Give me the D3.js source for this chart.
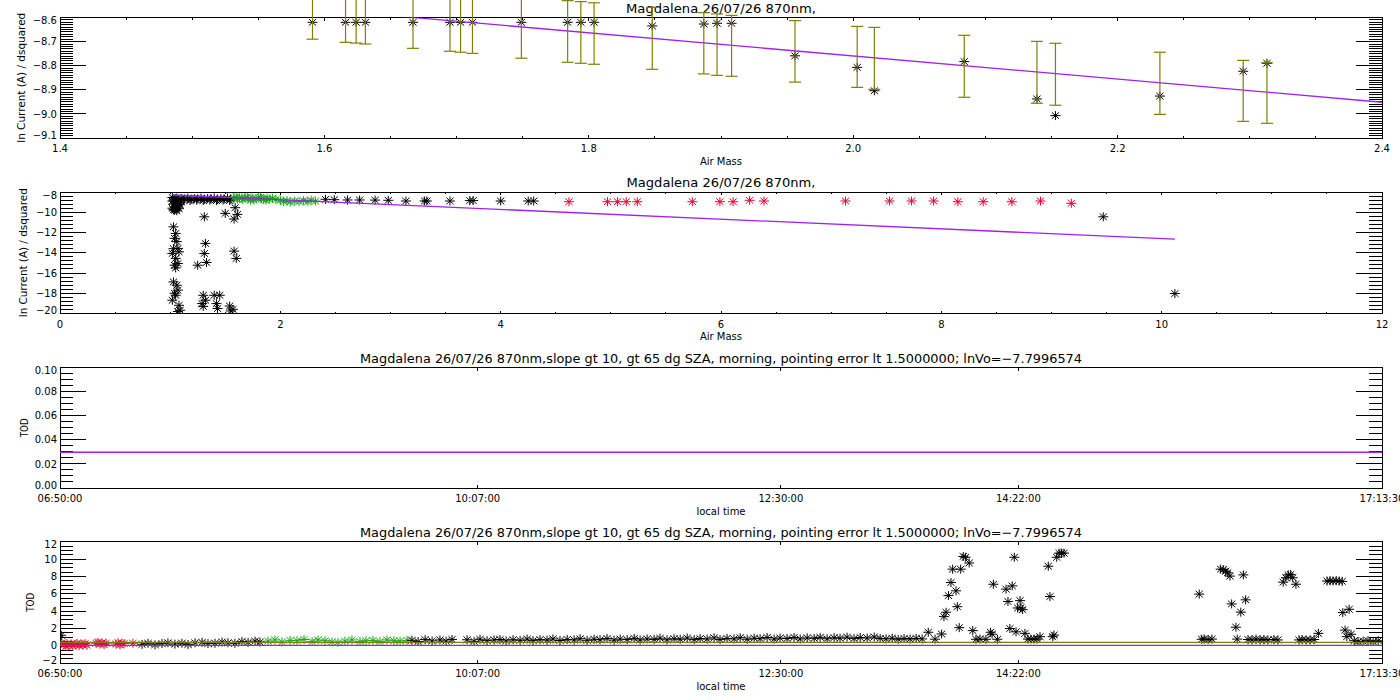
<!DOCTYPE html>
<html>
<head>
<meta charset="utf-8">
<script src="https://cdn.jsdelivr.net/npm/d3@7"></script>
<style>
  body { margin: 0; background: white; }
  svg text { font-family: "DejaVu Sans", sans-serif; fill: black; }
</style>
</head>
<body>
<div id="chart"></div>
<script>
// ---- titles ----
const titleShort = 'Magdalena 26/07/26 870nm,';
const titleLong = 'Magdalena 26/07/26 870nm,slope gt 10, gt 65 dg SZA, morning, pointing error lt 1.5000000; lnVo=\u22127.7996574';

// ---- panel 1: zoom on the Langley points with error bars ----
const p1AirMass = [1.591, 1.616, 1.624, 1.631, 1.667, 1.695, 1.703, 1.712, 1.749, 1.784, 1.794, 1.804, 1.848,
                   1.887, 1.897, 1.908, 1.956, 2.003, 2.016, 2.084, 2.139, 2.153, 2.232, 2.295, 2.313];
const p1LnI = [-8.620, -8.620, -8.620, -8.620, -8.620, -8.620, -8.620, -8.620, -8.620, -8.620, -8.620, -8.620, -8.635,
               -8.627, -8.624, -8.624, -8.759, -8.807, -8.904, -8.783, -8.938, -9.007, -8.926, -8.823, -8.790];
const p1ErrLow = [-8.690, -8.703, -8.706, -8.710, -8.728, -8.740, -8.744, -8.749, -8.769, -8.786, -8.790, -8.794, -8.815,
                  -8.834, -8.840, -8.844, -8.868, -8.890, -8.898, -8.931, -8.956, -8.964, -9.002, -9.031, -9.039];
const p1ErrHigh = [-8.436, -8.447, -8.452, -8.456, -8.472, -8.486, -8.490, -8.493, -8.509, -8.530, -8.534, -8.539, -8.558,
                   -8.580, -8.585, -8.591, -8.613, -8.637, -8.641, -8.674, -8.699, -8.707, -8.744, -8.778, -8.788];
const p1XTicks = [1.4, 1.6, 1.8, 2.0, 2.2, 2.4];
const p1YTicks = [-8.6, -8.7, -8.8, -8.9, -9.0, -9.1];

// fitted Langley line (shared by panels 1 and 2)
const fitAirMass = [1.03, 10.12];
const fitLnI = [-8.294, -12.657];

// ---- panel 2: all points ----
const p2BlackAirMass = [
    1.02, 1.04, 1.06, 1.08, 1.10, 1.13, 1.16, 1.19, 1.22, 1.25, 1.28, 1.31, 1.34, 1.37, 1.40, 1.43, 1.46, 1.49, 1.52, 1.55,
    1.03, 1.07, 1.12, 1.18, 1.24, 1.30, 1.36, 1.42, 1.48, 1.54,
    1.02, 1.05, 1.08, 1.03, 1.06, 1.09, 1.04, 1.07, 1.02, 1.05, 1.08, 1.04, 1.06, 1.03,
    1.03, 1.05, 1.04, 1.07, 1.02, 1.08, 1.05, 1.04, 1.07, 1.03, 1.06, 1.07, 1.05, 1.02, 1.08, 1.09, 1.06, 1.03, 1.05, 1.04, 1.07,
    1.31, 1.50, 1.59, 1.61, 1.58, 1.32, 1.31, 1.33, 1.25, 1.58, 1.60,
    1.30, 1.29, 1.32, 1.40, 1.45, 1.42, 1.43, 1.54, 1.57, 1.55, 1.30,
    2.41, 2.49, 2.61, 2.72, 2.86, 2.98, 3.14, 3.31, 3.33, 3.54, 3.72, 3.75, 4.00, 4.25, 4.30, 9.47, 10.12];
const p2BlackLnI = [
    -8.55, -8.70, -8.60, -8.75, -8.65, -8.70, -8.60, -8.75, -8.65, -8.70, -8.60, -8.75, -8.65, -8.70, -8.60, -8.75, -8.65, -8.70, -8.60, -8.72,
    -8.80, -8.85, -8.80, -8.85, -8.80, -8.85, -8.80, -8.85, -8.80, -8.85,
    -8.90, -9.00, -9.10, -9.20, -9.30, -9.25, -9.45, -9.50, -9.60, -9.70, -9.65, -9.80, -9.85, -9.75,
    -11.44, -12.09, -12.58, -13.57, -14.07, -13.91, -14.56, -15.23, -15.06, -16.88, -17.21, -17.70, -18.20, -18.69, -19.19, -19.68, -12.90, -13.60, -15.50, -18.00, -19.80,
    -10.45, -10.11, -9.55, -10.21, -10.67, -13.08, -14.07, -14.96, -15.23, -13.84, -14.56,
    -18.20, -19.02, -18.69, -18.20, -18.20, -19.02, -19.51, -19.26, -19.59, -19.75, -19.30,
    -8.72, -8.76, -8.79, -8.79, -8.80, -8.82, -8.89, -8.89, -8.89, -8.89, -8.85, -8.85, -8.89, -8.89, -8.89, -10.45, -18.03];
const p2GreenAirMass = [1.58, 1.60, 1.61, 1.63, 1.65, 1.66, 1.68, 1.70, 1.71, 1.73, 1.75, 1.76, 1.78, 1.80, 1.82, 1.83, 1.85,
                        1.87, 1.88, 1.90, 1.93, 1.96, 2.00, 2.03, 2.06, 2.09, 2.13, 2.17, 2.21, 2.25, 2.28, 2.32];
const p2GreenLnI = [-8.55, -8.50, -8.70, -8.60, -8.62, -8.75, -8.55, -8.52, -8.65, -8.80, -8.60, -8.78, -8.70, -8.55, -8.52, -8.65, -8.75,
                    -8.80, -8.60, -8.70, -8.62, -8.75, -8.80, -8.95, -8.85, -9.00, -8.90, -8.95, -8.85, -8.95, -8.80, -8.90];
const p2RedAirMass = [4.62, 4.97, 5.06, 5.14, 5.24, 5.74, 5.99, 6.11, 6.26, 6.39, 7.13, 7.53, 7.73, 7.93, 8.15, 8.38, 8.64, 8.90, 9.18];
const p2RedLnI = [-8.96, -8.96, -8.96, -8.96, -8.96, -8.96, -8.96, -8.96, -8.82, -8.89, -8.89, -8.89, -8.89, -8.89, -8.96, -8.96, -8.96, -8.89, -9.12];
const p2XTicks = [0, 2, 4, 6, 8, 10, 12];
const p2YTicks = [-8, -10, -12, -14, -16, -18, -20];

// ---- panels 3 and 4: TOD against local time (minutes since midnight) ----
const timeTickLabels = ['06:50:00', '10:07:00', '12:30:00', '14:22:00', '17:13:30'];
const meanTod = 0.0297;
const upperTod = 0.39;
const p3YTicks = [0.00, 0.02, 0.04, 0.06, 0.08, 0.10];
const p4YTicks = [-2, 0, 2, 4, 6, 8, 10, 12];

const todRedTime = [410.9, 411.9, 412.8, 413.3, 414.2, 415.2, 416.1, 417.1, 418.0, 419.0, 419.9, 420.8, 421.8,
                    422.7, 427.0, 427.9, 428.9, 429.8, 430.8, 431.7, 436.4, 437.4, 438.3, 439.2, 440.2, 444.4];
const todRedValue = [0.33, 0.09, -0.09, 0.24, 0.05, 0.19, -0.05, 0.14, 0.28, 0.00, 0.19, 0.09, 0.24,
                     0.05, 0.28, 0.38, 0.19, 0.33, 0.14, 0.28, 0.19, 0.33, 0.09, 0.28, 0.24, 0.28];
const todGreenTime = [508.1, 511.4, 514.7, 518.5, 521.8, 525.1, 528.9, 531.7, 535.0, 538.3, 541.1,
                      544.4, 547.7, 551.5, 554.3, 557.6, 560.9, 564.2, 567.5, 570.4, 573.7];
const todGreenValue = [0.52, 0.66, 0.43, 0.61, 0.57, 0.71, 0.47, 0.66, 0.57, 0.43, 0.38,
                       0.52, 0.66, 0.47, 0.57, 0.61, 0.47, 0.66, 0.57, 0.52, 0.61];
const todBlackTime = [
    410.6, 448.7, 451.5, 454.8, 458.1, 460.9, 464.2, 467.5, 470.4, 473.7, 477.0, 479.8, 483.1, 486.4, 489.2, 492.5, 495.8, 498.7, 502.0, 504.3,
    576.0, 578.9, 582.2, 585.5, 589.2, 592.1, 594.9, 602.0, 605.3, 608.1, 611.4, 614.7, 617.5, 620.4, 623.7, 627.0, 630.3, 633.1,
    636.4, 639.7, 642.5, 645.8, 649.2, 652.5, 655.3, 658.6, 661.9, 664.7, 668.0, 671.3, 674.2, 677.5, 680.8, 683.6, 686.9, 690.2,
    693.0, 696.3, 699.6, 702.5, 705.8, 709.1, 711.9, 715.2, 718.5, 721.3, 724.6, 727.9, 730.8, 734.1, 737.4, 740.2, 743.5, 746.8,
    749.6, 752.9, 756.2, 759.1, 762.4, 765.7, 768.5, 771.8, 775.1, 777.9, 781.2, 784.5, 787.4, 790.7, 794.0, 796.8, 799.6, 802.5,
    805.3, 808.1, 810.9, 813.8, 816.6,
    819.5, 822.7, 825.8, 826.9, 827.9, 829.0, 830.2, 831.0, 832.6, 833.2, 834.1, 834.8, 836.0, 837.0, 838.8, 840.5, 842.0, 843.9,
    846.7, 848.9, 849.6, 850.2, 852.1, 856.2, 857.1, 858.0, 859.1, 860.1, 860.9, 861.7, 862.8, 863.2, 864.0, 865.1, 866.5, 867.9,
    869.4, 870.8, 872.2, 876.1, 876.9, 878.2, 878.8, 880.1, 881.2, 882.4, 883.5,
    947.3, 948.5, 949.6, 951.5, 953.3, 957.4, 958.6, 959.8, 960.7, 961.8, 962.6, 964.6, 965.2, 966.9, 968.1, 969.2, 970.3, 972.2,
    974.1, 976.0, 977.8, 979.7, 982.5, 984.4, 986.9, 988.2, 989.3, 990.4, 991.4, 992.9, 994.4, 995.8, 997.7, 999.6, 1001.5, 1003.5,
    1007.6, 1009.0, 1010.4, 1011.9, 1013.3, 1014.7, 1015.0, 1016.1, 1016.9, 1018.0, 1018.9, 1020.4, 1022.2, 1024.6, 1026.9, 1029.3, 1031.7];
const todBlackValue = [
    1.20, 0.15, 0.28, 0.10, 0.24, 0.33, 0.18, 0.28, 0.14, 0.33, 0.38, 0.24, 0.28, 0.42, 0.33, 0.28, 0.47, 0.38, 0.52, 0.42,
    0.62, 0.48, 0.70, 0.55, 0.66, 0.52, 0.72, 0.68, 0.50, 0.74, 0.58, 0.66, 0.71, 0.55, 0.69, 0.62, 0.76, 0.58,
    0.70, 0.64, 0.78, 0.60, 0.72, 0.66, 0.80, 0.62, 0.74, 0.68, 0.82, 0.64, 0.76, 0.70, 0.84, 0.66, 0.78, 0.72,
    0.86, 0.68, 0.80, 0.74, 0.88, 0.70, 0.82, 0.76, 0.90, 0.72, 0.84, 0.78, 0.92, 0.74, 0.86, 0.80, 0.94, 0.76,
    0.88, 0.82, 0.95, 0.78, 0.90, 0.84, 0.96, 0.80, 0.92, 0.86, 0.98, 0.82, 0.94, 0.88, 1.00, 0.84, 0.78, 0.86,
    0.74, 0.82, 0.76, 0.84, 0.78,
    1.55, 0.75, 1.35, 3.35, 3.86, 5.78, 7.29, 8.83, 6.33, 4.50, 2.08, 8.83, 10.30, 10.20, 9.54, 1.74, 0.74, 0.76,
    0.74, 1.55, 1.32, 7.09, 0.74, 6.52, 5.10, 1.98, 6.90, 10.20, 1.60, 4.35, 5.20, 4.35, 4.16, 1.42, 0.76, 0.76,
    0.76, 0.76, 1.04, 9.17, 5.67, 1.04, 1.23, 10.20, 10.68, 10.68, 10.68,
    5.95, 0.74, 0.76, 0.71, 0.76, 8.83, 8.79, 8.60, 8.41, 8.03, 4.82, 2.13, 0.76, 3.87, 8.17, 5.29, 0.71, 0.66,
    0.76, 0.66, 0.71, 0.66, 0.71, 0.66, 7.33, 7.84, 8.17, 8.22, 7.84, 7.09, 0.66, 0.71, 0.66, 0.66, 0.71, 1.42,
    7.46, 7.51, 7.46, 7.51, 7.46, 7.42, 3.82, 1.80, 1.04, 4.20, 1.32, 0.57, 0.47, 0.52, 0.57, 0.47, 0.57];

// ---- colours ----
const colorFit = '#a020f0';
const colorOlive = '#808000';
const colorRed = '#e60032';
const colorGreen = '#14a814';

const plotLeft = 60, plotRight = 1382;

const svg = d3.select("#chart")
    .append("svg")
    .attr("width", 1400)
    .attr("height", 700);

function timeMinutes(s) {
    const p = s.split(":").map(Number);
    return p[0] * 60 + p[1] + p[2] / 60;
}

// IDL style asterisk (psym=2)
const starPath = "M-5,0H5M0,-4.5V4.5M-3.6,-3.3L3.6,3.3M-3.6,3.3L3.6,-3.3";

function drawStars(g, xs, ys, x, y, color) {
    g.selectAll(null)
        .data(xs.map(function(d, i) { return [d, ys[i]]; }))
        .enter()
        .append("path")
        .attr("d", starPath)
        .attr("transform", function(d) { return `translate(${x(d[0])},${y(d[1])})`; })
        .attr("fill", "none")
        .attr("stroke", color)
        .attr("stroke-width", 1);
}

function addClip(id, top, bottom) {
    svg.append("clipPath")
        .attr("id", id)
        .append("rect")
        .attr("x", plotLeft)
        .attr("y", top)
        .attr("width", plotRight - plotLeft)
        .attr("height", bottom - top);
}

// box, ticks on all four sides, labels and titles
function drawFrame(o) {
    const g = svg.append("g");
    const ticks = g.append("g").attr("shape-rendering", "crispEdges");

    [{vals: o.yMinor, len: 13}, {vals: o.yMajor, len: 26}].forEach(function(t) {
        ticks.selectAll(null).data(t.vals).enter().append("line")
            .attr("x1", plotLeft).attr("x2", plotLeft + t.len)
            .attr("y1", function(d) { return o.y(d); })
            .attr("y2", function(d) { return o.y(d); })
            .attr("stroke", "black");
        ticks.selectAll(null).data(t.vals).enter().append("line")
            .attr("x1", plotRight - t.len).attr("x2", plotRight)
            .attr("y1", function(d) { return o.y(d); })
            .attr("y2", function(d) { return o.y(d); })
            .attr("stroke", "black");
    });

    [{vals: o.xMinor, len: 2}, {vals: o.xMajor, len: 3}].forEach(function(t) {
        ticks.selectAll(null).data(t.vals).enter().append("line")
            .attr("x1", function(d) { return o.x(d); })
            .attr("x2", function(d) { return o.x(d); })
            .attr("y1", o.bottom).attr("y2", o.bottom - t.len)
            .attr("stroke", "black");
        ticks.selectAll(null).data(t.vals).enter().append("line")
            .attr("x1", function(d) { return o.x(d); })
            .attr("x2", function(d) { return o.x(d); })
            .attr("y1", o.top).attr("y2", o.top + t.len)
            .attr("stroke", "black");
    });

    ticks.append("rect")
        .attr("x", plotLeft)
        .attr("y", o.top)
        .attr("width", plotRight - plotLeft)
        .attr("height", o.bottom - o.top)
        .attr("fill", "none")
        .attr("stroke", "black");

    // y tick labels, the end ones pulled a little inside like IDL does
    g.selectAll(null).data(o.yMajor).enter().append("text")
        .attr("x", plotLeft - 3)
        .attr("y", function(d) {
            let yy = o.y(d);
            if (Math.abs(yy - o.top) < 1) yy += 3;
            if (Math.abs(yy - o.bottom) < 1) yy -= 3;
            return yy;
        })
        .attr("dy", "0.36em")
        .attr("text-anchor", "end")
        .attr("font-size", 10)
        .text(o.yFormat);

    g.selectAll(null).data(o.xMajor).enter().append("text")
        .attr("x", function(d) { return o.x(d); })
        .attr("y", o.bottom + 14)
        .attr("text-anchor", "middle")
        .attr("font-size", 10)
        .text(function(d, i) { return o.xLabels ? o.xLabels[i] : o.xFormat(d); });

    g.append("text")
        .attr("x", (plotLeft + plotRight) / 2)
        .attr("y", o.top - 5)
        .attr("text-anchor", "middle")
        .attr("font-size", 12.5)
        .attr("textLength", o.titleLength)
        .attr("lengthAdjust", "spacingAndGlyphs")
        .text(o.title);

    g.append("text")
        .attr("x", (plotLeft + plotRight) / 2)
        .attr("y", o.bottom + 26.5)
        .attr("text-anchor", "middle")
        .attr("font-size", 10)
        .text(o.xTitle);

    g.append("text")
        .attr("transform", `translate(${o.yTitleX}, ${(o.top + o.bottom) / 2}) rotate(-90)`)
        .attr("dy", "0.35em")
        .attr("text-anchor", "middle")
        .attr("font-size", 10)
        .attr("textLength", o.yTitleLength)
        .attr("lengthAdjust", "spacingAndGlyphs")
        .text(o.yTitle);
}

function fitLine(g, x, y) {
    g.append("path")
        .datum(fitAirMass.map(function(d, i) { return [d, fitLnI[i]]; }))
        .attr("d", d3.line().x(function(d) { return x(d[0]); }).y(function(d) { return y(d[1]); }))
        .attr("fill", "none")
        .attr("stroke", colorFit)
        .attr("stroke-width", 1.3);
}

function panelOne() {
    const top = 17.5, bottom = 138;
    const x = d3.scaleLinear().domain([p1XTicks[0], p1XTicks[p1XTicks.length - 1]]).range([plotLeft, plotRight]);
    const y = d3.scaleLinear().domain([p1YTicks[p1YTicks.length - 1], p1YTicks[0]]).range([bottom, top]);
    addClip("clip1", top, bottom);

    drawFrame({
        top: top, bottom: bottom, x: x, y: y,
        xMajor: p1XTicks, xMinor: d3.range(1.45, 2.4, 0.05),
        yMajor: p1YTicks, yMinor: d3.range(-9.1, -8.595, 0.01),
        xFormat: d3.format(".1f"), yFormat: d3.format(".1f"),
        title: titleShort, titleLength: 190,
        xTitle: "Air Mass", yTitle: "ln Current (A) / dsquared", yTitleX: 21.5, yTitleLength: 130
    });

    const g = svg.append("g");
    drawStars(g, p1AirMass, p1LnI, x, y, "black");
    fitLine(g.append("g").attr("clip-path", "url(#clip1)"), x, y);

    // error bars (not clipped, they run off the top as in the original)
    const bars = g.append("g").attr("stroke", colorOlive).attr("stroke-width", 1.2);
    const rows = p1AirMass.map(function(d, i) { return {m: d, lo: p1ErrLow[i], hi: p1ErrHigh[i]}; });
    bars.selectAll(null).data(rows).enter().append("line")
        .attr("x1", function(d) { return x(d.m); })
        .attr("x2", function(d) { return x(d.m); })
        .attr("y1", function(d) { return y(d.lo); })
        .attr("y2", function(d) { return y(d.hi); });
    ["lo", "hi"].forEach(function(k) {
        bars.selectAll(null).data(rows).enter().append("line")
            .attr("x1", function(d) { return x(d.m) - 6; })
            .attr("x2", function(d) { return x(d.m) + 6; })
            .attr("y1", function(d) { return y(d[k]); })
            .attr("y2", function(d) { return y(d[k]); });
    });
}

function panelTwo() {
    const top = 192, bottom = 313.5;
    const x = d3.scaleLinear().domain([p2XTicks[0], p2XTicks[p2XTicks.length - 1]]).range([plotLeft, plotRight]);
    const y = d3.scaleLinear().domain([p2YTicks[p2YTicks.length - 1], p2YTicks[0]]).range([bottom, top]);
    addClip("clip2", top, bottom);

    drawFrame({
        top: top, bottom: bottom, x: x, y: y,
        xMajor: p2XTicks, xMinor: d3.range(0.5, 12, 0.5),
        yMajor: p2YTicks, yMinor: d3.range(-20, -7.9, 0.4),
        xFormat: d3.format("d"), yFormat: d3.format("d"),
        title: titleShort, titleLength: 189,
        xTitle: "Air Mass", yTitle: "ln Current (A) / dsquared", yTitleX: 23.3, yTitleLength: 129
    });

    const g = svg.append("g").attr("clip-path", "url(#clip2)");
    drawStars(g, p2BlackAirMass, p2BlackLnI, x, y, "black");
    drawStars(g, p2GreenAirMass, p2GreenLnI, x, y, colorGreen);
    drawStars(g, p2RedAirMass, p2RedLnI, x, y, colorRed);
    fitLine(g, x, y);
}

function todPanel(top, bottom, yTicks, yMinorStep, yFormat, yTitleX, clipId, withPoints) {
    const tickMinutes = timeTickLabels.map(timeMinutes);
    const x = d3.scaleLinear().domain([tickMinutes[0], tickMinutes[tickMinutes.length - 1]]).range([plotLeft, plotRight]);
    const y = d3.scaleLinear().domain([yTicks[0], yTicks[yTicks.length - 1]]).range([bottom, top]);
    addClip(clipId, top, bottom);

    drawFrame({
        top: top, bottom: bottom, x: x, y: y,
        xMajor: tickMinutes, xMinor: [], xLabels: timeTickLabels,
        yMajor: yTicks, yMinor: d3.range(yTicks[0], yTicks[yTicks.length - 1] + yMinorStep / 2, yMinorStep),
        yFormat: yFormat,
        title: titleLong, titleLength: 722,
        xTitle: "local time", yTitle: "TOD", yTitleX: yTitleX, yTitleLength: 19
    });

    const g = svg.append("g").attr("clip-path", `url(#${clipId})`);
    if (withPoints) {
        drawStars(g, todRedTime, todRedValue, x, y, colorRed);
        drawStars(g, todGreenTime, todGreenValue, x, y, colorGreen);
        drawStars(g, todBlackTime, todBlackValue, x, y, "black");
        g.append("line")
            .attr("x1", plotLeft).attr("x2", plotRight)
            .attr("y1", y(upperTod)).attr("y2", y(upperTod))
            .attr("stroke", colorOlive)
            .attr("stroke-width", 1.2);
    }
    g.append("line")
        .attr("x1", plotLeft).attr("x2", plotRight)
        .attr("y1", y(meanTod)).attr("y2", y(meanTod))
        .attr("stroke", colorFit)
        .attr("stroke-width", 1.3);
}

function main() {
    panelOne();
    panelTwo();
    todPanel(367.7, 488, p3YTicks, 0.005, d3.format(".2f"), 24, "clip3", false);
    todPanel(541.7, 663, p4YTicks, 0.5, d3.format("d"), 30, "clip4", true);
}

main();
</script>
</body>
</html>
